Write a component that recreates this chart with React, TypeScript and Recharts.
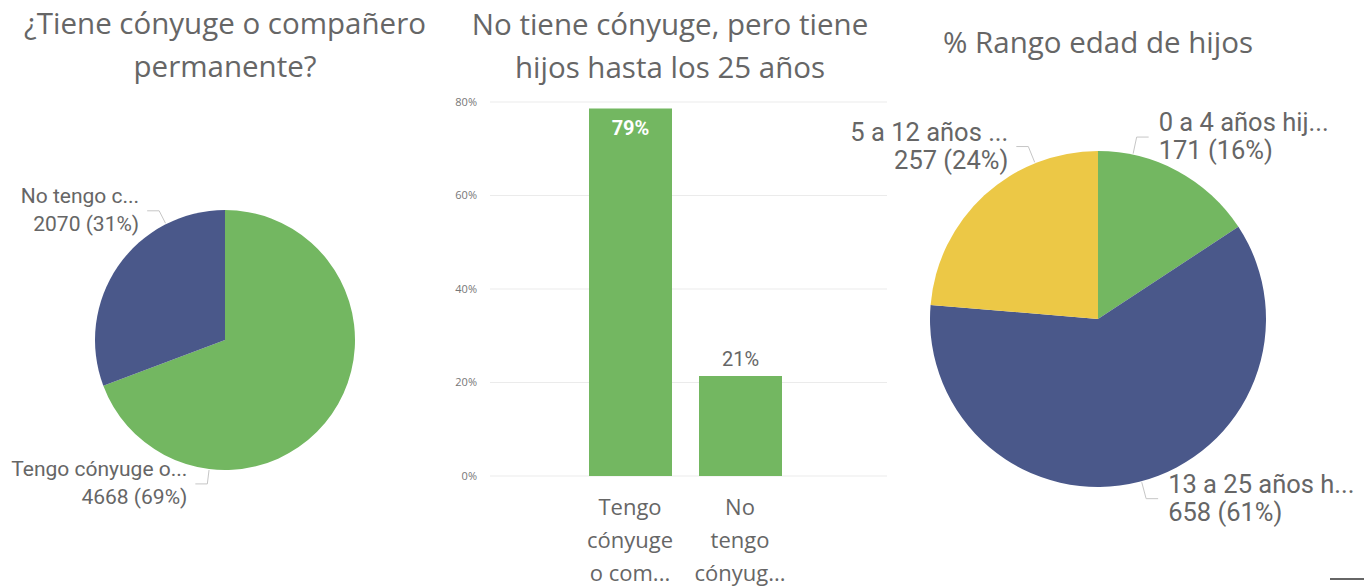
import React from 'react';
import { PieChart, Pie, Cell, BarChart, Bar, XAxis, YAxis, CartesianGrid, LabelList } from 'recharts';

// ¿Tiene cónyuge o compañero permanente?
const parejaNames = ['Tengo cónyuge o...', 'No tengo c...'];
const parejaValues = [4668, 2070];

// No tiene cónyuge, pero tiene hijos hasta los 25 años (share in %)
const hijosCategories = ['Tengo\ncónyuge\no com...', 'No\ntengo\ncónyug...'];
const hijosValues = [78.6, 21.4];
const hijosTicks = [0, 20, 40, 60, 80];

// % Rango edad de hijos
const edadNames = ['0 a 4 años hij...', '13 a 25 años h...', '5 a 12 años ...'];
const edadValues = [171, 658, 257];

const GREEN = '#73B761';
const BLUE = '#4A588A';
const YELLOW = '#ECC846';
const TEXT = '#666666';

const parejaColors = [GREEN, BLUE];
const edadColors = [GREEN, BLUE, YELLOW];
// angle where each leader line leaves the slice (Power BI does not use the mid angle)
const parejaLabelAngles = [-97, 117];
const edadLabelAngles = [78, -75, 112];

const RAD = Math.PI / 180;
const NO_MARGIN = { top: 0, right: 0, bottom: 0, left: 0 };

const parejaData = parejaNames.map((name, i) => ({ name, value: parejaValues[i] }));
const hijosData = hijosCategories.map((category, i) => ({ category, value: hijosValues[i] }));
const edadData = edadNames.map((name, i) => ({ name, value: edadValues[i] }));

const makePieLabel = (angles: number[], fontSize: number, reach: number) => (props: any) => {
  const { cx, cy, outerRadius, index, value, percent } = props;
  const name = props.payload?.name ?? props.name;
  const a = angles[index] ?? props.midAngle;
  const cos = Math.cos(-a * RAD);
  const sin = Math.sin(-a * RAD);
  const x0 = cx + (outerRadius + 1) * cos;
  const y0 = cy + (outerRadius + 1) * sin;
  const x1 = cx + (outerRadius + reach) * cos;
  const y1 = cy + (outerRadius + reach) * sin;
  const right = cos >= 0;
  const x2 = x1 + (right ? 12 : -12);
  const tx = x2 + (right ? 10 : -8);
  const anchor = right ? 'start' : 'end';
  return (
    <g>
      <polyline points={`${x0},${y0} ${x1},${y1} ${x2},${y1}`} fill="none" stroke="#c6c6c6" strokeWidth={1} />
      <text x={tx} y={y1 - 15} textAnchor={anchor} dominantBaseline="central" fill={TEXT} fontSize={fontSize} fontFamily="Roboto">
        {name}
      </text>
      <text x={tx} y={y1 + 13} textAnchor={anchor} dominantBaseline="central" fill={TEXT} fontSize={fontSize} fontFamily="Roboto">
        {`${value} (${Math.round(percent * 100)}%)`}
      </text>
    </g>
  );
};

const CategoryTick = (props: any) => {
  const { x, y, payload } = props;
  const lines = String(payload.value).split('\n');
  return (
    <g>
      {lines.map((line, i) => (
        <text key={i} x={x} y={y + 22 + i * 33} textAnchor="middle" dominantBaseline="central" fill={TEXT} fontSize={22} fontFamily="Open Sans">
          {line}
        </text>
      ))}
    </g>
  );
};

// Power BI puts the label inside the bar only when there is no room above it
const BarValueLabel = (props: any) => {
  const x = Number(props.x);
  const y = Number(props.y);
  const width = Number(props.width);
  const value = Number(props.value);
  const inside = value > hijosTicks[hijosTicks.length - 1] - 8;
  return (
    <text
      x={x + width / 2}
      y={inside ? y + 19 : y - 17}
      textAnchor="middle"
      dominantBaseline="central"
      fill={inside ? '#ffffff' : TEXT}
      fontSize={20}
      fontWeight={inside ? 700 : 400}
      fontFamily="Roboto"
    >
      {`${Math.round(value)}%`}
    </text>
  );
};

const titleStyle: React.CSSProperties = {
  position: 'absolute',
  textAlign: 'center',
  fontSize: 29.5,
  lineHeight: '43px',
  color: TEXT,
  fontFamily: 'Open Sans',
  whiteSpace: 'nowrap',
};

const App: React.FC = () => {
  return (
    <div style={{ position: 'absolute', left: 0, top: 0, width: 1364, height: 587, background: '#fff', fontFamily: 'Open Sans', overflow: 'hidden' }}>
      <div style={{ ...titleStyle, left: 0, top: 1, width: 450 }}>
        ¿Tiene cónyuge o compañero
        <br />
        permanente?
      </div>
      <div style={{ ...titleStyle, left: 440, top: 2, width: 460 }}>
        No tiene cónyuge, pero tiene
        <br />
        hijos hasta los 25 años
      </div>
      <div style={{ ...titleStyle, left: 890, top: 20, width: 416 }}>% Rango edad de hijos</div>

      <div style={{ position: 'absolute', left: 0, top: 0 }}>
        <PieChart width={450} height={587} margin={NO_MARGIN}>
          <Pie
            data={parejaData}
            dataKey="value"
            nameKey="name"
            cx={225}
            cy={340}
            outerRadius={130}
            startAngle={90}
            endAngle={-270}
            stroke="none"
            labelLine={false}
            label={makePieLabel(parejaLabelAngles, 21, 15)}
            isAnimationActive={false}
          >
            {parejaData.map((d, i) => (
              <Cell key={d.name} fill={parejaColors[i]} />
            ))}
          </Pie>
        </PieChart>
      </div>

      <div style={{ position: 'absolute', left: 440, top: 0 }}>
        <BarChart width={450} height={587} data={hijosData} margin={{ top: 102, right: 3, bottom: 11, left: 0 }}>
          <CartesianGrid vertical={false} stroke="#ebebeb" />
          <XAxis
            dataKey="category"
            axisLine={false}
            tickLine={false}
            height={100}
            interval={0}
            padding={{ left: 85, right: 92 }}
            tick={<CategoryTick />}
          />
          <YAxis
            domain={[0, 80]}
            ticks={hijosTicks}
            width={50}
            axisLine={false}
            tickLine={false}
            tickMargin={7}
            tick={{ fontSize: 11, fill: '#777' }}
            tickFormatter={(v: number) => `${v}%`}
          />
          <Bar dataKey="value" fill={GREEN} barSize={83} isAnimationActive={false}>
            <LabelList dataKey="value" content={BarValueLabel} />
          </Bar>
        </BarChart>
      </div>

      <div style={{ position: 'absolute', left: 830, top: 0 }}>
        <PieChart width={534} height={587} margin={NO_MARGIN}>
          <Pie
            data={edadData}
            dataKey="value"
            nameKey="name"
            cx={268}
            cy={319}
            outerRadius={168}
            startAngle={90}
            endAngle={-270}
            stroke="none"
            labelLine={false}
            label={makePieLabel(edadLabelAngles, 25.5, 18)}
            isAnimationActive={false}
          >
            {edadData.map((d, i) => (
              <Cell key={d.name} fill={edadColors[i]} />
            ))}
          </Pie>
        </PieChart>
      </div>

      <div style={{ position: 'absolute', left: 1330, top: 578, width: 34, height: 2, background: '#666' }} />
    </div>
  );
};

export default App;
